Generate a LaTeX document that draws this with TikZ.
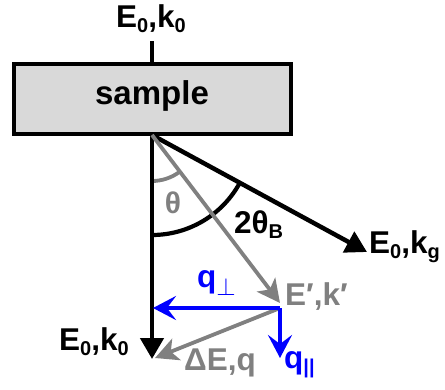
\documentclass[tikz,border=0pt]{standalone}
\usepackage{fontspec}
\setmainfont{Liberation Sans}
\usetikzlibrary{arrows.meta}
\definecolor{boxgray}{HTML}{D9D9D9}
\definecolor{lgray}{HTML}{808080}
\definecolor{qblue}{HTML}{0000FF}
\newcommand\lsub[1]{\raisebox{-0.19em}{\fontsize{20}{20}\selectfont #1}}
\begin{document}
\begin{tikzpicture}[x=1pt,y=1pt,
  lab/.style={inner sep=0pt, font=\fontsize{31.5}{36}\selectfont\bfseries},
  samplebox/.style={draw=black, line width=4.5pt, fill=boxgray, inner sep=0pt,
    minimum width=277pt, minimum height=70pt},
  blackbeam/.style={draw=black, line width=4.5pt, -{Triangle[length=21pt,width=23pt]}},
  graybeam/.style={draw=lgray, line width=3.8pt, -{Stealth[length=23pt,width=23pt,inset=6pt]}},
  qbeam/.style={draw=qblue, line width=4.2pt, -{Stealth[length=23pt,width=24pt,inset=9pt]}},
  blackarc/.style={draw=black, line width=4.2pt},
  grayarc/.style={draw=lgray, line width=3.8pt}]
\useasboundingbox (0,0) rectangle (445,-389);

% sample box
\node[samplebox] (sample) at (152.5,-99) {};
\node[lab, font=\fontsize{33}{38}\selectfont\bfseries, anchor=base] (sampletxt) at (152,-104) {sample};

% incoming beam
\node[lab, anchor=base] (inlab) at (151,-27) {E\lsub{0},k\lsub{0}};
\coordinate (topend) at (152,-41);
\coordinate (toptouch) at (152,-64);
\draw[line width=4pt] (topend) -- (toptouch);

% origin and beams
\coordinate (O) at (152,-135);
\coordinate (kg) at (367,-252);
\coordinate (k0) at (152,-359);
\coordinate (kp) at (280,-303);
\coordinate (C) at (280,-308);
\coordinate (qperp) at (153,-308);
\coordinate (qpar) at (280,-358);
\coordinate (dq) at (155,-358);

% arcs
\draw[blackarc] (O) ++(270:100) arc[start angle=270, end angle=331.45, radius=100];
\draw[grayarc] (O) ++(270:46) arc[start angle=270, end angle=307.3, radius=46];

\draw[blackbeam] (O) -- (k0);
\draw[blackbeam] (O) -- (kg);
\draw[graybeam] (O) -- (kp);
\draw[graybeam] (C) -- (dq);
\draw[qbeam] (C) -- (qperp);
\draw[qbeam] (C) -- (qpar);

% labels
\node[lab, anchor=base west] (kglab) at (369,-253) {E\lsub{0},k\lsub{g}};
\node[lab, anchor=base west] (k0lab) at (59,-350) {E\lsub{0},k\lsub{0}};
\node[inner sep=0pt, text=lgray, font=\fontsize{30}{33}\selectfont\bfseries] (thetalab) at (173,-203) {θ};
\node[lab, anchor=base west] (tblab) at (234,-233) {2θ\lsub{B}};
\node[lab, anchor=base west, text=lgray] (kplab) at (285,-305) {E′,k′};
\node[lab, anchor=base west, text=qblue] (qperplab) at (197,-287) {q\raisebox{-0.28em}{\fontsize{26}{26}\selectfont$\perp$}};
\node[lab, anchor=base west, text=qblue] (qparlab) at (284,-368) {q\lsub{||}};
\node[lab, anchor=base west, text=lgray] (dqlab) at (184,-370) {ΔE,q};
\end{tikzpicture}
\end{document}
